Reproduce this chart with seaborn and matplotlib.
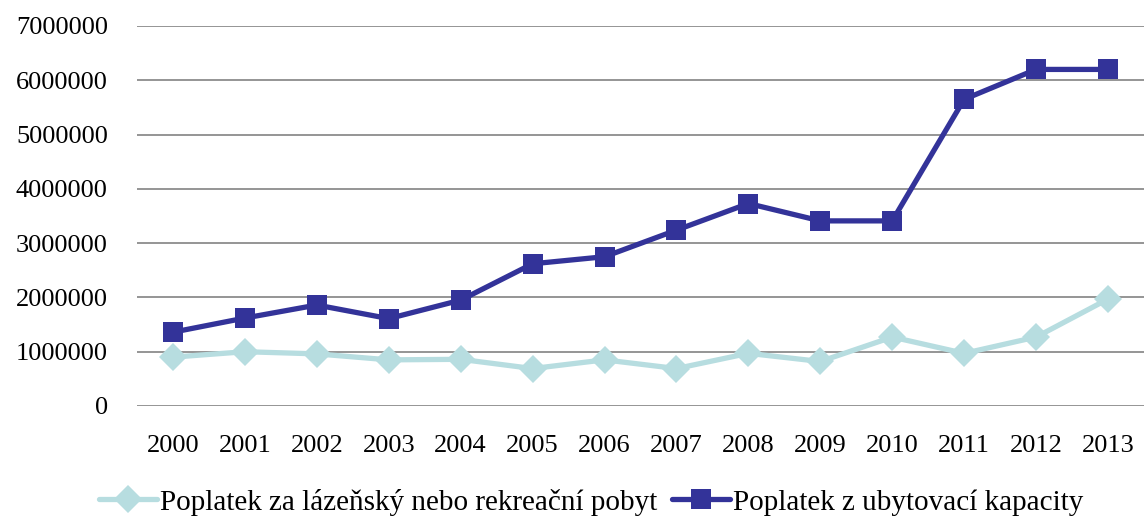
import numpy as np
import pandas as pd
import matplotlib
matplotlib.use('Agg')
import matplotlib.pyplot as plt
import seaborn as sns

# data
years = [str(y) for y in range(2000, 2014)]
lazensky = [900000, 1000000, 960000, 850000, 860000, 690000, 850000,
            690000, 970000, 820000, 1270000, 970000, 1270000, 1970000]
ubytovaci = [1360000, 1620000, 1860000, 1610000, 1950000, 2620000, 2750000,
             3240000, 3730000, 3410000, 3410000, 5650000, 6200000, 6200000]
series_names = ['Poplatek za lázeňský nebo rekreační pobyt',
                'Poplatek z ubytovací kapacity']
y_ticks = np.arange(0, 7000001, 1000000)

df = pd.DataFrame({
    'rok': years * 2,
    'hodnota': lazensky + ubytovaci,
    'serie': [series_names[0]] * len(years) + [series_names[1]] * len(years),
})

sns.set_theme(style='white')
plt.rcParams['font.family'] = ['Liberation Serif', 'DejaVu Serif']
plt.rcParams['text.color'] = 'black'

fig = plt.figure(figsize=(11.44, 5.19), dpi=100)
ax = fig.add_axes([137 / 1144, 1 - 406 / 519, 1 - 137 / 1144, 380 / 519])

for y in y_ticks:
    ax.axhline(y, color='#8c8c8c', lw=1.3, zorder=0)

sns.lineplot(data=df, x='rok', y='hodnota', hue='serie', style='serie',
             palette={series_names[0]: '#b7dde0', series_names[1]: '#333399'},
             markers={series_names[0]: 'D', series_names[1]: 's'},
             dashes=False, linewidth=3.8, markersize=14.5,
             markeredgewidth=0, ax=ax)

ax.set_xlim(-0.5, 13.5)
ax.set_ylim(0, 7000000)
ax.set_yticks(y_ticks)
ax.set_yticklabels([str(int(v)) for v in y_ticks])
ax.set_xlabel('')
ax.set_ylabel('')
ax.tick_params(axis='both', length=0, labelsize=19, labelcolor='black')
ax.tick_params(axis='y', pad=21)
ax.tick_params(axis='x', pad=21)
for s in ax.spines.values():
    s.set_visible(False)

handles, labels = ax.get_legend_handles_labels()
ax.get_legend().remove()
fig.legend(handles, labels, loc='center', bbox_to_anchor=(591 / 1144, 1 - 502 / 519),
           ncol=2, frameon=False, fontsize=21, handlelength=2.0,
           handletextpad=0.1, columnspacing=0.5)

fig.savefig('out.png', dpi=100)
